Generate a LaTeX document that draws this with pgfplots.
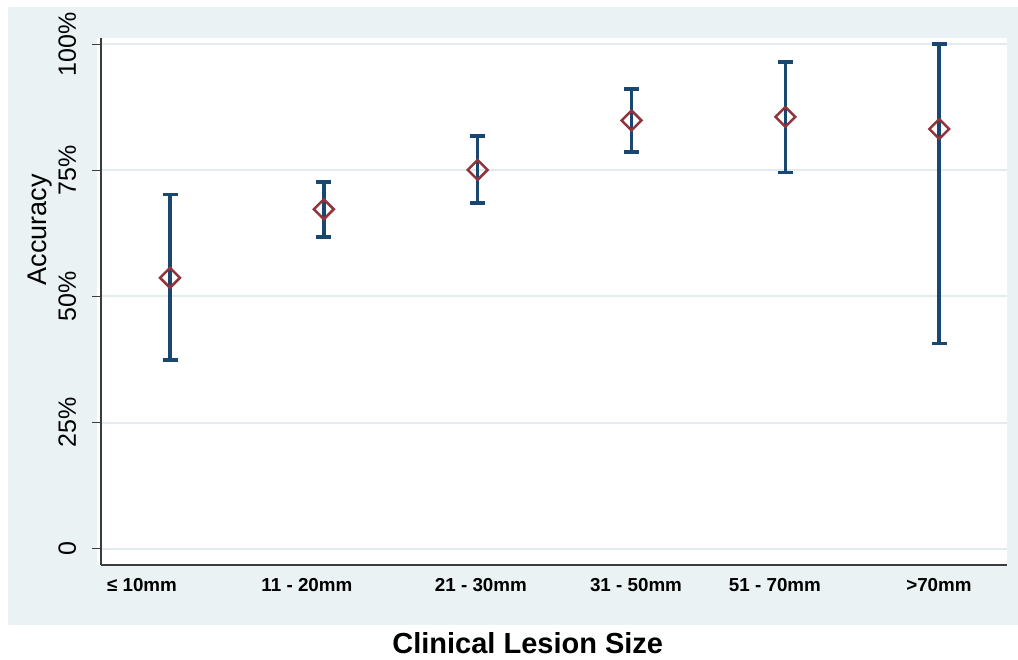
\documentclass[border=0pt]{standalone}
\usepackage{pgfplots}
\pgfplotsset{compat=1.18}
\usepackage{pgfplotstable}
\usepackage{fontspec}
\setmainfont{Liberation Sans}

\definecolor{panel}{RGB}{234,242,243}
\definecolor{gridc}{RGB}{226,236,238}
\definecolor{navy}{RGB}{26,71,111}
\definecolor{cranberry}{RGB}{144,53,59}
\definecolor{axisc}{RGB}{60,60,60}

% accuracy (%) with lower and upper confidence limits per size group
\pgfplotstableread{
x y lo hi
0 53.7 37.4 70.2
1 67.3 61.8 72.7
2 75.1 68.5 81.8
3 84.9 78.6 91.1
4 85.6 74.6 96.5
5 83.2 40.7 100.0
}\accuracy

\begin{document}
\begin{tikzpicture}[x=1pt,y=1pt]
\fill[white] (0,0) rectangle (1018,660);
\fill[panel] (8,35) rectangle (1018,653);
\fill[white] (97,95) rectangle (1007,622);
\begin{axis}[
  at={(101pt,95pt)}, anchor=south west,
  scale only axis, width=906pt, height=527pt,
  xmin=-0.4485, xmax=5.4405,
  ymin=-3.23, ymax=101.25,
  axis lines*=left,
  axis line style={axisc, line width=1.3pt, -},
  tick align=outside,
  major tick length=9pt,
  xtick={-0.182,0.890,2.021,3.029,3.932,4.998},
  xticklabels={≤ 10mm, 11 - 20mm, 21 - 30mm, 31 - 50mm, 51 - 70mm, >70mm},
  x tick style={draw=none},
  xticklabel style={font=\fontsize{18.8}{20}\selectfont\bfseries, anchor=base, yshift=-18pt},
  ytick={0,25,50,75,100},
  yticklabels={0,25\%,50\%,75\%,100\%},
  y tick style={axisc, line width=1.3pt},
  yticklabel style={font=\fontsize{25}{26}\selectfont, xshift=-16pt, rotate=90, anchor=base},
  ymajorgrids,
  y grid style={gridc, line width=2pt},
  xlabel={Clinical Lesion Size},
  xlabel style={font=\fontsize{29}{30}\selectfont\bfseries, at={(rel axis cs:0.471,0)}, anchor=center, yshift=-78pt},
  ylabel={Accuracy},
  ylabel style={font=\fontsize{27}{28}\selectfont, at={(rel axis cs:0,0.636)}, anchor=center, yshift=61pt},
  clip=false,
]
% confidence intervals
\addplot[draw=none, no markers,
  error bars/.cd, y dir=both, y explicit,
  error bar style={draw=navy, line width=3.6pt},
  error mark options={rotate=90, draw=navy, line width=3.6pt, mark size=7.5pt}]
  table[x=x, y=y,
        y error plus expr=\thisrow{hi}-\thisrow{y},
        y error minus expr=\thisrow{y}-\thisrow{lo}] {\accuracy};
% point estimates, hollow diamonds
\addplot[only marks, draw=cranberry, fill=none, mark=square, mark size=7pt,
  mark options={draw=cranberry, fill=none, line width=2.5pt, rotate=45}]
  table[x=x, y=y] {\accuracy};
\end{axis}
\pgfresetboundingbox
\useasboundingbox (0,0) rectangle (1018,660);
\end{tikzpicture}
\end{document}
